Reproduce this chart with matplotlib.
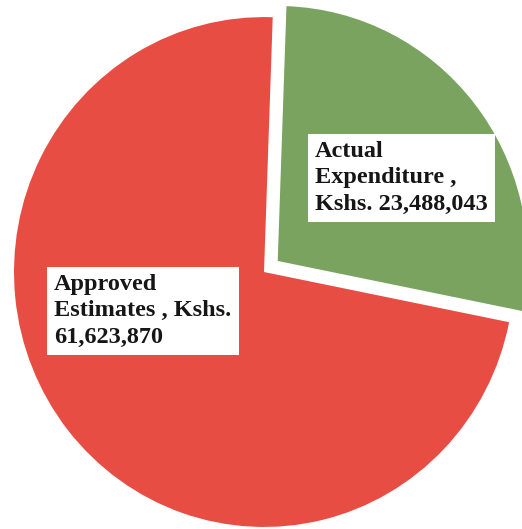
import matplotlib
matplotlib.use("Agg")
from matplotlib import pyplot as plt

# budget figures (Kshs.)
labels = ["Actual\nExpenditure ,\nKshs. 23,488,043",
          "Approved\nEstimates , Kshs.\n61,623,870"]
values = [23488043, 61623870]
colors = ["#79A35F", "#E84D43"]
explode = [0.07, 0.0]


def main():
    fig = plt.figure(figsize=(5.22, 5.29), dpi=100)
    ax = fig.add_axes([0, 0, 1, 1])

    ax.pie(values, colors=colors, explode=explode, startangle=88,
           counterclock=False, wedgeprops=dict(linewidth=0))
    ax.set_aspect("auto")
    ax.set_xlim(-1.056, 1.032)
    ax.set_ylim(-1.008, 1.067)
    ax.axis("off")

    box = dict(boxstyle="square,pad=0.3", facecolor="white", edgecolor="none")
    font = dict(family="Liberation Serif", weight="bold", size=17.5, color="#161616")

    # label for the exploded slice
    fig.text(315 / 522, 1 - 141 / 529, labels[0], ha="left", va="top",
             linespacing=1.34, bbox=box, **font)
    # label for the big slice
    fig.text(54 / 522, 1 - 274 / 529, labels[1], ha="left", va="top",
             linespacing=1.34, bbox=box, **font)

    fig.savefig("out.png", dpi=100)


if __name__ == '__main__':
    main()
